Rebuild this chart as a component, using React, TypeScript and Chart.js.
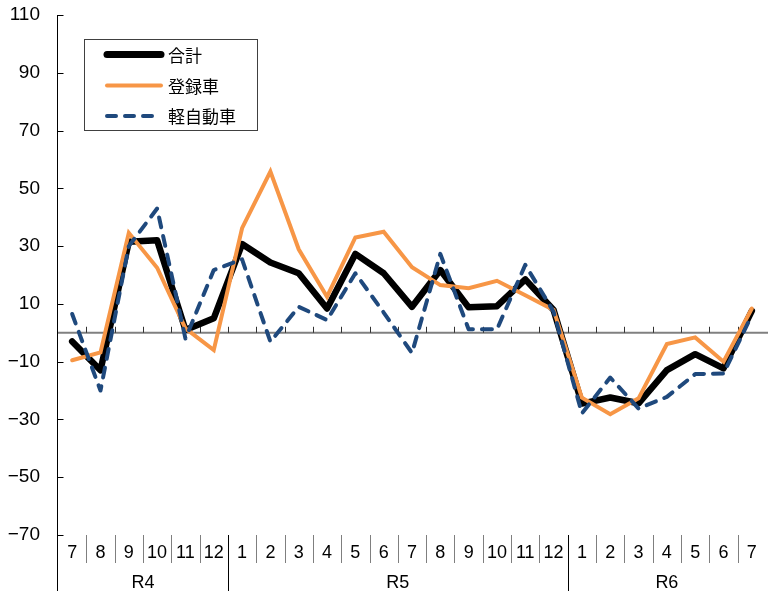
import React, { useEffect, useRef } from "react";
import { Chart, registerables } from "chart.js";

Chart.register(...registerables);

const months = ["7", "8", "9", "10", "11", "12", "1", "2", "3", "4", "5", "6", "7", "8", "9", "10", "11", "12", "1", "2", "3", "4", "5", "6", "7"];
const yearLabels = ["R4", "R5", "R6"];
const yearSpans = [6, 12, 7];

const total = [-3, -13, 31.5, 32, 1, 5, 30.7, 24.3, 20.6, 8.4, 27.3, 20.6, 9, 21.7, 8.8, 9.2, 18.5, 7.9, -24.5, -22.4, -24.4, -12.9, -7.4, -12.3, 7.6];
const registered = [-9.5, -6.8, 34.6, 22.5, 1.5, -6, 36.2, 55.8, 28.9, 12.5, 33, 35, 22.7, 16.5, 15.4, 18, 13, 7.9, -22.5, -28.2, -22.7, -3.9, -1.6, -10, 8.4];
const kei = [6.5, -20, 30, 43, -2, 21.7, 25.4, -3.1, 9, 4.4, 20.6, 7, -7, 27.3, 1.2, 1.2, 23.5, 7.3, -27.9, -15.5, -26.2, -22.2, -14.3, -14.1, 6.1];

const seriesNames = ["合計", "登録車", "軽自動車"];
const yMin = -70;
const yMax = 110;
const yStep = 20;

const NUM_FONT = "18px 'Liberation Sans', Arial, sans-serif";
const CJK_FONT = "17px 'Noto Sans CJK JP', sans-serif";

const customPlugin = {
  id: "customAxes",
  beforeDatasetsDraw(chart: any) {
    const { ctx, chartArea, scales } = chart;
    const y = scales.y;
    const n = months.length;
    const bw = (chartArea.right - chartArea.left) / n;
    const y0 = y.getPixelForValue(0);
    ctx.save();
    ctx.strokeStyle = "#808080";
    ctx.lineWidth = 2;
    ctx.beginPath();
    ctx.moveTo(chartArea.left, y0);
    ctx.lineTo(chartArea.right + 2, y0);
    ctx.stroke();
    ctx.strokeStyle = "#333";
    ctx.lineWidth = 1;
    for (let i = 1; i < n; i++) {
      const xx = Math.round(chartArea.left + i * bw) + 0.5;
      ctx.beginPath();
      ctx.moveTo(xx, y0);
      ctx.lineTo(xx, y0 - 6);
      ctx.stroke();
    }
    ctx.restore();
  },
  afterDraw(chart: any) {
    const { ctx, chartArea, scales } = chart;
    const x = scales.x;
    const y = scales.y;
    const left = chartArea.left;
    const right = chartArea.right;
    const top = chartArea.top;
    const bottom = chartArea.bottom;
    const H = chart.height;
    const n = months.length;
    const bw = (right - left) / n;
    ctx.save();
    const ax = Math.round(left) - 0.5;
    ctx.strokeStyle = "#000";
    ctx.lineWidth = 1;
    ctx.beginPath();
    ctx.moveTo(ax, top);
    ctx.lineTo(ax, H);
    ctx.stroke();
    for (const t of y.ticks) {
      const yy = Math.round(y.getPixelForValue(t.value)) + 0.5;
      ctx.beginPath();
      ctx.moveTo(ax, yy);
      ctx.lineTo(ax + 6, yy);
      ctx.stroke();
    }
    const yearBounds: number[] = [];
    let acc = 0;
    for (const s of yearSpans) {
      acc += s;
      yearBounds.push(acc);
    }
    for (let i = 1; i < n; i++) {
      const xx = Math.round(left + i * bw) + 0.5;
      const isYear = yearBounds.includes(i);
      ctx.strokeStyle = isYear ? "#000" : "#7f7f7f";
      ctx.beginPath();
      ctx.moveTo(xx, bottom);
      ctx.lineTo(xx, isYear ? H : bottom + 28);
      ctx.stroke();
    }
    ctx.fillStyle = "#000";
    ctx.font = NUM_FONT;
    ctx.textAlign = "center";
    ctx.textBaseline = "middle";
    months.forEach((m, i) => {
      ctx.fillText(m, x.getPixelForValue(i), bottom + 18);
    });
    let start = 0;
    yearLabels.forEach((lab, k) => {
      const end = start + yearSpans[k];
      const cx = (x.getPixelForValue(start) + x.getPixelForValue(end - 1)) / 2;
      ctx.fillText(lab, cx, H - 8);
      start = end;
    });
    ctx.strokeStyle = "#404040";
    ctx.lineWidth = 1;
    ctx.strokeRect(84.5, 39.5, 173, 91);
    const rows = [
      { y: 54.5, color: "#000000", width: 7, dash: [] as number[] },
      { y: 85.5, color: "#F79646", width: 4, dash: [] as number[] },
      { y: 116, color: "#1F497D", width: 4, dash: [9, 9] },
    ];
    rows.forEach((r, i) => {
      ctx.save();
      ctx.strokeStyle = r.color;
      ctx.lineWidth = r.width;
      ctx.lineCap = "round";
      ctx.setLineDash(r.dash);
      ctx.beginPath();
      ctx.moveTo(107, r.y);
      ctx.lineTo(161, r.y);
      ctx.stroke();
      ctx.restore();
      ctx.fillStyle = "#000";
      ctx.font = CJK_FONT;
      ctx.textAlign = "left";
      ctx.textBaseline = "middle";
      ctx.fillText(seriesNames[i], 168, r.y + 1);
    });
    ctx.restore();
  },
};

export default function App() {
  const ref = useRef<HTMLCanvasElement | null>(null);
  useEffect(() => {
    if (!ref.current) return;
    const chart = new Chart(ref.current, {
      type: "line",
      data: {
        labels: months,
        datasets: [
          {
            label: seriesNames[0],
            data: total,
            borderColor: "#000000",
            borderWidth: 6.5,
            pointRadius: 0,
            tension: 0,
            fill: false,
            borderJoinStyle: "round",
            borderCapStyle: "round",
            order: 3,
          },
          {
            label: seriesNames[1],
            data: registered,
            borderColor: "#F79646",
            borderWidth: 4,
            pointRadius: 0,
            tension: 0,
            fill: false,
            borderJoinStyle: "miter",
            borderCapStyle: "round",
            order: 2,
          },
          {
            label: seriesNames[2],
            data: kei,
            borderColor: "#1F497D",
            borderWidth: 4,
            borderDash: [10, 9],
            pointRadius: 0,
            tension: 0,
            fill: false,
            borderJoinStyle: "round",
            borderCapStyle: "round",
            order: 1,
          },
        ],
      },
      options: {
        responsive: false,
        animation: false,
        layout: { padding: { top: 15, bottom: 56, left: 0, right: 2 } },
        plugins: {
          legend: { display: false },
          tooltip: { enabled: false },
        },
        scales: {
          x: {
            type: "category",
            offset: true,
            display: false,
          },
          y: {
            min: yMin,
            max: yMax,
            grid: { display: false, drawTicks: false },
            border: { display: false },
            ticks: {
              stepSize: yStep,
              padding: 18,
              color: "#000",
              font: { size: 19, family: "'Liberation Sans', Arial, sans-serif" },
              callback: (v: any) => String(v).replace("-", "\u2212"),
            },
            afterFit: (s: any) => {
              s.width = 58;
              s.paddingTop = 0;
              s.paddingBottom = 0;
            },
          },
        },
      },
      plugins: [customPlugin],
    });
    return () => chart.destroy();
  }, []);
  return (
    <div style={{ position: "fixed", left: 0, top: 0, width: 768, height: 591, background: "#fff" }}>
      <canvas ref={ref} width={768} height={591} style={{ display: "block" }} />
    </div>
  );
}
